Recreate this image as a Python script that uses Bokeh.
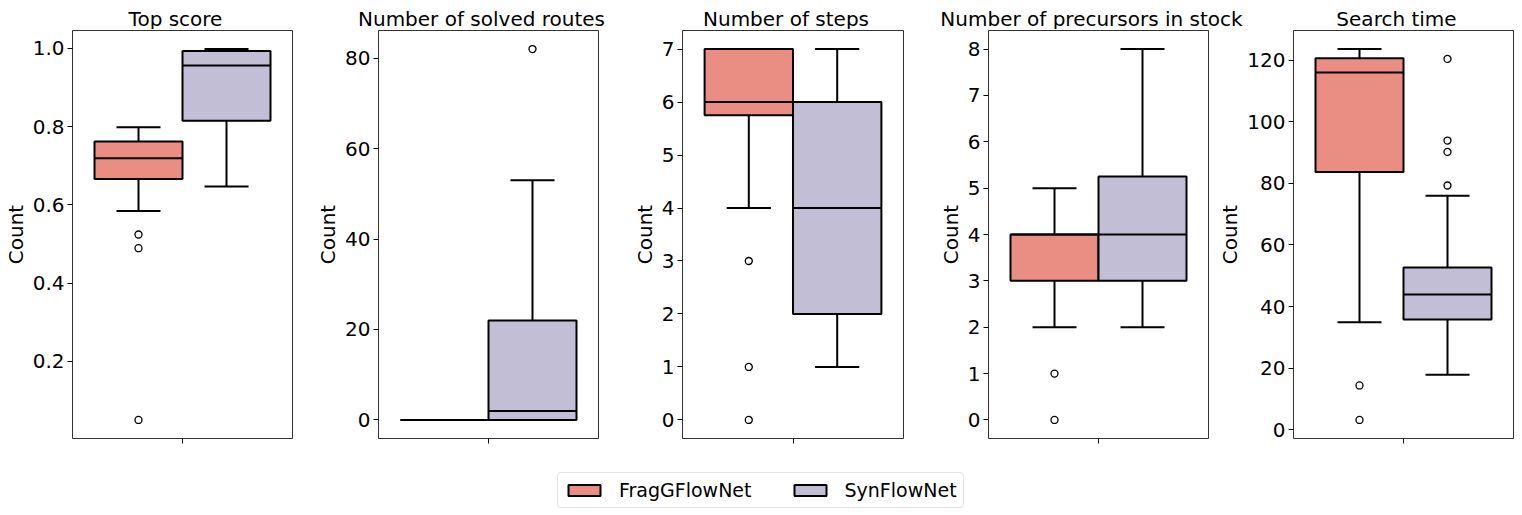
import numpy as np
from bokeh.plotting import figure
from bokeh.models import (Legend, LegendItem, FixedTicker, ColumnDataSource, Range1d)
from bokeh.layouts import row, column
from bokeh.embed import file_html
from bokeh.resources import INLINE
from bokeh.core.properties import value

# ---------------- data ----------------
titles = ["Top score", "Number of solved routes", "Number of steps",
          "Number of precursors in stock", "Search time"]
series = ["FragGFlowNet", "SynFlowNet"]
colors = ["#EA8E83", "#C1BED6"]

frag_lo = [0.584, 0, 4, 2, 34.9]
frag_q1 = [0.666, 0, 5.75, 3, 83.7]
frag_med = [0.719, 0, 6, 4, 116.0]
frag_q3 = [0.762, 0, 7, 4, 120.6]
frag_hi = [0.798, 0, 7, 5, 123.6]
frag_out = [[0.524, 0.489, 0.050], [], [3, 1, 0], [1, 0], [14.4, 3.2]]

syn_lo = [0.647, 0, 1, 2, 17.9]
syn_q1 = [0.815, 0, 2, 3, 35.8]
syn_med = [0.956, 2, 4, 4, 43.9]
syn_q3 = [0.993, 22, 6, 5.25, 52.7]
syn_hi = [0.998, 53, 7, 8, 76.0]
syn_out = [[], [82], [], [], [120.4, 93.9, 90.2, 79.3]]

y_ticks = [[0.2, 0.4, 0.6, 0.8, 1.0],
           [0, 20, 40, 60, 80],
           [0, 1, 2, 3, 4, 5, 6, 7],
           [0, 1, 2, 3, 4, 5, 6, 7, 8],
           [0, 20, 40, 60, 80, 100, 120]]
y_tick_labels = [["0.2", "0.4", "0.6", "0.8", "1.0"],
                 ["0", "20", "40", "60", "80"],
                 ["0", "1", "2", "3", "4", "5", "6", "7"],
                 ["0", "1", "2", "3", "4", "5", "6", "7", "8"],
                 ["0", "20", "40", "60", "80", "100", "120"]]

# ---------------- layout ----------------
FONT = "DejaVu Sans"
TOTAL_W = 1508
left_borders = [65, 84, 82, 83, 83]
frame_widths = [220, 220, 221, 220, 220]
RIGHT = 2
FRAME_H = 408
TITLE_H = 29
TITLE_MID = 11
TOP = 1
BOTTOM = 20
LEG_H = 50


def style_common(p):
    p.grid.visible = False
    p.background_fill_color = "white"
    p.border_fill_color = "white"


# title strip (titles may be wider than a panel, so they share one canvas)
title_fig = figure(width=TOTAL_W, height=TITLE_H, min_border=0, title=None,
                   x_axis_type=None, y_axis_type=None, x_range=Range1d(0, TOTAL_W),
                   y_range=Range1d(0, TITLE_H), output_backend="svg",
                   toolbar_location=None, tools="")
style_common(title_fig)
title_fig.outline_line_color = None
centers_px = []
acc = 0
for lb, fw in zip(left_borders, frame_widths):
    centers_px.append(acc + lb + fw / 2)
    acc += lb + fw + RIGHT
title_fig.text(x=centers_px, y=[TITLE_MID] * len(titles), text=titles,
               text_align="center", text_baseline="middle",
               text_font=value(FONT), text_font_size="20px", text_color="black")

figs = []
for i, title in enumerate(titles):
    lo_all = [frag_lo[i], syn_lo[i]] + frag_out[i] + syn_out[i]
    hi_all = [frag_hi[i], syn_hi[i]] + frag_out[i] + syn_out[i]
    dmin, dmax = min(lo_all), max(hi_all)
    pad = (dmax - dmin) * 0.05
    p = figure(frame_width=frame_widths[i], frame_height=FRAME_H, title=None,
               min_border_left=left_borders[i], min_border_right=RIGHT,
               min_border_top=TOP, min_border_bottom=BOTTOM,
               x_range=Range1d(-0.5, 0.5), y_range=Range1d(dmin - pad, dmax + pad),
               output_backend="svg", toolbar_location=None, tools="")
    style_common(p)
    p.outline_line_color = "#333333"
    p.outline_line_width = 1

    centers = [-0.2, 0.2]
    lefts = [-0.4, 0.0]
    rights = [0.0, 0.4]
    src = ColumnDataSource(dict(
        c=centers, l=lefts, r=rights,
        q1=[frag_q1[i], syn_q1[i]], q3=[frag_q3[i], syn_q3[i]],
        med=[frag_med[i], syn_med[i]], lo=[frag_lo[i], syn_lo[i]],
        hi=[frag_hi[i], syn_hi[i]],
        cl=[c - 0.1 for c in centers], cr=[c + 0.1 for c in centers], color=colors))
    kw = dict(source=src, line_color="black", line_width=2)
    p.segment(x0="c", y0="q3", x1="c", y1="hi", **kw)
    p.segment(x0="c", y0="q1", x1="c", y1="lo", **kw)
    p.segment(x0="cl", y0="hi", x1="cr", y1="hi", **kw)
    p.segment(x0="cl", y0="lo", x1="cr", y1="lo", **kw)
    p.quad(left="l", right="r", bottom="q1", top="q3", fill_color="color", **kw)
    p.segment(x0="l", y0="med", x1="r", y1="med", **kw)

    ox = [-0.2] * len(frag_out[i]) + [0.2] * len(syn_out[i])
    oy = frag_out[i] + syn_out[i]
    if oy:
        p.scatter(x=ox, y=oy, marker="circle", size=7, fill_color="white",
                  line_color="black", line_width=1.3)

    ya = p.yaxis[0]
    ya.ticker = FixedTicker(ticks=y_ticks[i])
    ya.major_label_overrides = {t: s for t, s in zip(y_ticks[i], y_tick_labels[i])}
    ya.axis_label = "Count"
    ya.axis_label_text_font = FONT
    ya.axis_label_text_font_size = "20px"
    ya.axis_label_text_font_style = "normal"
    ya.axis_label_text_color = "black"
    ya.axis_label_standoff = 2
    ya.major_label_text_font = FONT
    ya.major_label_text_font_size = "20px"
    ya.major_label_text_color = "black"
    ya.major_label_standoff = 3
    ya.major_tick_out = 5
    ya.major_tick_in = 0
    ya.minor_tick_out = 0
    ya.minor_tick_in = 0
    ya.axis_line_color = None
    ya.major_tick_line_color = "black"

    xa = p.xaxis[0]
    xa.ticker = FixedTicker(ticks=[], minor_ticks=[0])
    xa.minor_tick_out = 5
    xa.minor_tick_in = 0
    xa.minor_tick_line_color = "black"
    xa.minor_tick_line_width = 1
    xa.axis_line_color = None
    figs.append(p)

# ---------------- legend ----------------
leg = figure(width=TOTAL_W, height=LEG_H, min_border=0, title=None,
             x_axis_type=None, y_axis_type=None,
             output_backend="svg", toolbar_location=None, tools="",
             x_range=Range1d(0, 1), y_range=Range1d(0, 1))
style_common(leg)
leg.outline_line_color = None
items = []
for s, c in zip(series, colors):
    # proxy glyph placed outside the visible range; only its legend swatch shows
    r = leg.quad(left=[-3], right=[-2], bottom=[-3], top=[-2], fill_color=c,
                 line_color="black", line_width=2)
    items.append(LegendItem(label=s, renderers=[r]))
legend = Legend(items=items, orientation="horizontal", location=(557, 0),
                label_text_font=FONT, label_text_font_size="19px", label_text_color="black",
                glyph_width=40, glyph_height=14, label_standoff=15, spacing=38,
                padding=6, margin=0, border_line_color="#cccccc", border_line_width=1,
                background_fill_alpha=1.0)
if "border_radius" in Legend.properties():
    legend.border_radius = 4
leg.add_layout(legend, "center")

layout = column(title_fig, row(*figs, spacing=0), leg, spacing=0)
open("out.html", "w").write(file_html(layout, INLINE))
